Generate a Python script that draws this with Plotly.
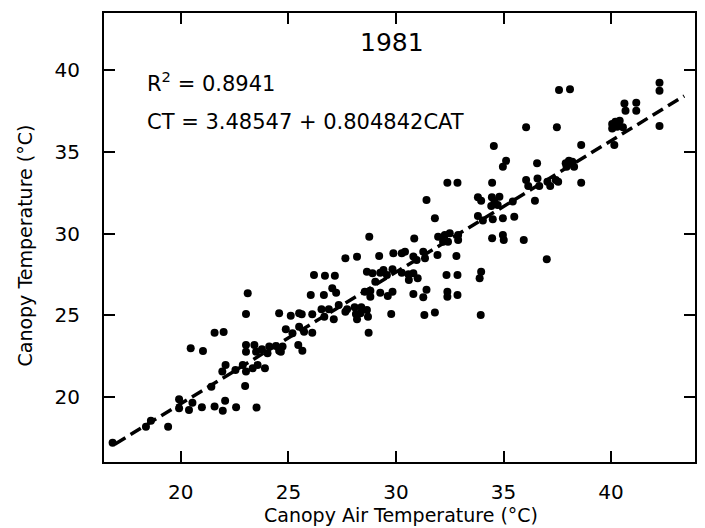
import plotly.graph_objects as go

# Canopy air temperature (°C) and canopy temperature (°C), 1981
cat = [16.83, 18.38, 18.61, 19.41, 19.92, 19.92, 20.38, 20.54, 20.46, 20.98,
       21.03, 21.42, 21.57, 21.57, 21.93, 21.95, 21.99, 22.06, 22.08, 22.54,
       22.57, 22.88, 22.99, 23.03, 23.11, 23.03, 23.03, 23.03, 23.34, 23.42,
       23.50, 23.52, 23.57, 23.77, 23.91, 24.03, 24.11, 24.42, 24.57, 24.57,
       24.65, 24.73, 24.88, 25.11, 25.19, 25.46, 25.50, 25.50, 25.62, 25.65,
       25.73, 26.04, 26.11, 26.11, 26.19, 26.54, 26.65, 26.67, 26.70, 26.88,
       27.04, 27.11, 27.16, 27.22, 27.34, 27.65, 27.65, 27.73, 28.08, 28.14,
       28.19, 28.19, 28.35, 28.39, 28.55, 28.65, 28.65, 28.70, 28.73, 28.76,
       28.81, 28.81, 28.91, 29.04, 29.22, 29.27, 29.27, 29.42, 29.58, 29.62,
       29.78, 29.84, 29.84, 29.88, 30.27, 30.27, 30.42, 30.58, 30.60, 30.81,
       30.81, 30.81, 30.85, 30.96, 31.01, 31.27, 31.35, 31.42, 31.27, 31.32,
       31.42, 31.81, 31.81, 31.93, 31.96, 32.19, 32.27, 32.35, 32.39, 32.39,
       32.39, 32.42, 32.50, 32.81, 32.86, 32.86, 32.86, 32.89, 32.89, 33.81,
       33.81, 33.89, 33.94, 33.96, 33.96, 34.04, 34.43, 34.46, 34.47, 34.47,
       34.50, 34.55, 34.58, 34.73, 34.81, 34.97, 34.97, 34.97, 35.01, 35.12,
       35.43, 35.50, 35.94, 36.05, 36.05, 36.15, 36.46, 36.56, 36.58, 36.66,
       37.01, 37.04, 37.17, 37.43, 37.48, 37.54, 37.58, 37.89, 37.93, 38.04,
       38.09, 38.20, 38.28, 38.61, 38.61, 40.05, 40.05, 40.15, 40.20, 40.28,
       40.40, 40.55, 40.62, 40.67, 41.17, 41.17, 42.25, 42.25, 42.25]
ct = [17.20, 18.18, 18.55, 18.18, 19.86, 19.31, 19.20, 19.65, 22.98, 19.37,
      22.81, 20.63, 23.93, 19.41, 21.55, 19.16, 23.98, 19.77, 21.96, 21.65,
      19.37, 21.96, 20.67, 25.08, 26.34, 23.18, 22.77, 21.55, 21.75, 23.18,
      22.77, 19.35, 21.96, 22.92, 21.75, 22.67, 23.08, 23.12, 25.12, 22.83,
      22.77, 23.08, 24.14, 24.97, 23.90, 23.18, 24.30, 25.12, 25.06, 22.83,
      23.99, 26.24, 25.06, 23.93, 27.46, 25.36, 26.24, 24.91, 27.42, 25.36,
      26.65, 24.75, 27.42, 26.38, 25.63, 25.22, 28.48, 25.36, 25.49, 25.08,
      24.75, 28.58, 25.12, 25.49, 26.44, 25.32, 27.66, 24.91, 23.93, 29.80,
      26.50, 26.13, 27.57, 27.05, 28.62, 27.60, 26.38, 27.77, 27.46, 26.18,
      25.08, 27.81, 26.44, 28.79, 28.79, 27.60, 28.89, 27.50, 27.16, 28.60,
      27.57, 26.30, 29.70, 28.38, 27.26, 28.89, 28.48, 26.56, 26.10, 25.02,
      32.05, 30.93, 25.16, 28.68, 29.80, 29.50, 29.91, 27.46, 33.11, 26.44,
      26.13, 29.50, 30.01, 28.62, 33.11, 27.46, 26.24, 29.91, 29.60, 32.21,
      31.07, 27.26, 25.02, 32.00, 27.66, 30.79, 31.68, 32.21, 33.11, 29.71,
      30.87, 35.35, 31.95, 31.74, 32.25, 34.09, 30.93, 29.91, 29.60, 34.45,
      31.95, 31.03, 29.60, 36.50, 33.27, 32.91, 32.00, 34.29, 33.37, 32.91,
      28.42, 33.17, 32.91, 33.27, 36.50, 33.17, 38.78, 34.29, 34.09, 34.45,
      38.82, 34.39, 34.09, 35.41, 33.11, 36.70, 36.43, 35.41, 36.84, 36.53,
      36.90, 36.50, 37.96, 37.51, 38.00, 37.51, 39.22, 38.73, 36.58]

# Regression reported on the chart: CT = 3.48547 + 0.804842 CAT
intercept = 3.48547
slope = 0.804842
r_squared = 0.8941
fit_x = [16.95, 43.4]
fit_y = [intercept + slope * v for v in fit_x]

x_ticks = [20, 25, 30, 35, 40]
y_ticks = [20, 25, 30, 35, 40]
x_title = "Canopy Air Temperature (°C)"
y_title = "Canopy Temperature (°C)"

FONT = "DejaVu Sans"

fig = go.Figure()
fig.add_trace(go.Scatter(
    x=fit_x, y=fit_y, mode="lines",
    line=dict(color="black", width=3.5, dash="12px,6px"),
    showlegend=False, hoverinfo="skip"))
fig.add_trace(go.Scatter(
    x=cat, y=ct, mode="markers",
    marker=dict(color="black", size=8, line=dict(width=0)),
    showlegend=False))

fig.add_annotation(text="1981", x=0.487, y=0.934, xref="paper", yref="paper",
                   showarrow=False, font=dict(family=FONT, size=25, color="black"),
                   xanchor="center", yanchor="middle")
fig.add_annotation(text=f"R<sup>2</sup> = {r_squared}", x=0.069, y=0.846,
                   xref="paper", yref="paper", showarrow=False,
                   font=dict(family=FONT, size=21, color="black"),
                   xanchor="left", yanchor="middle")
fig.add_annotation(text=f"CT = {intercept} + {slope}CAT", x=0.069, y=0.757,
                   xref="paper", yref="paper", showarrow=False,
                   font=dict(family=FONT, size=21, color="black"),
                   xanchor="left", yanchor="middle")
# axis titles
fig.add_annotation(text=x_title, x=0.5025, y=-0.119, xref="paper", yref="paper",
                   showarrow=False, font=dict(family=FONT, size=19, color="black"),
                   xanchor="center", yanchor="middle")
fig.add_annotation(text=y_title, x=-0.133, y=0.483, xref="paper", yref="paper",
                   showarrow=False, textangle=-90,
                   font=dict(family=FONT, size=19, color="black"),
                   xanchor="center", yanchor="middle")

axis_common = dict(
    showline=True, mirror="ticks", linecolor="black", linewidth=2,
    ticks="inside", ticklen=11, tickwidth=2, tickcolor="black",
    showgrid=False, zeroline=False,
    tickfont=dict(family=FONT, size=20, color="black"),
)

fig.update_xaxes(range=[16.43, 43.9], tickvals=x_ticks,
                 ticklabelstandoff=11, **axis_common)
fig.update_yaxes(range=[16.02, 43.49], tickvals=y_ticks,
                 ticklabelstandoff=18, **axis_common)

fig.update_layout(
    width=705, height=528,
    margin=dict(l=104, r=8, t=13, b=66, pad=0),
    paper_bgcolor="white", plot_bgcolor="white",
    font=dict(family=FONT, color="black"),
)

fig.write_html("out.html",
               config={"displayModeBar": False},
               post_script="document.body.style.margin='0';"
                           "document.body.style.overflow='hidden';")
